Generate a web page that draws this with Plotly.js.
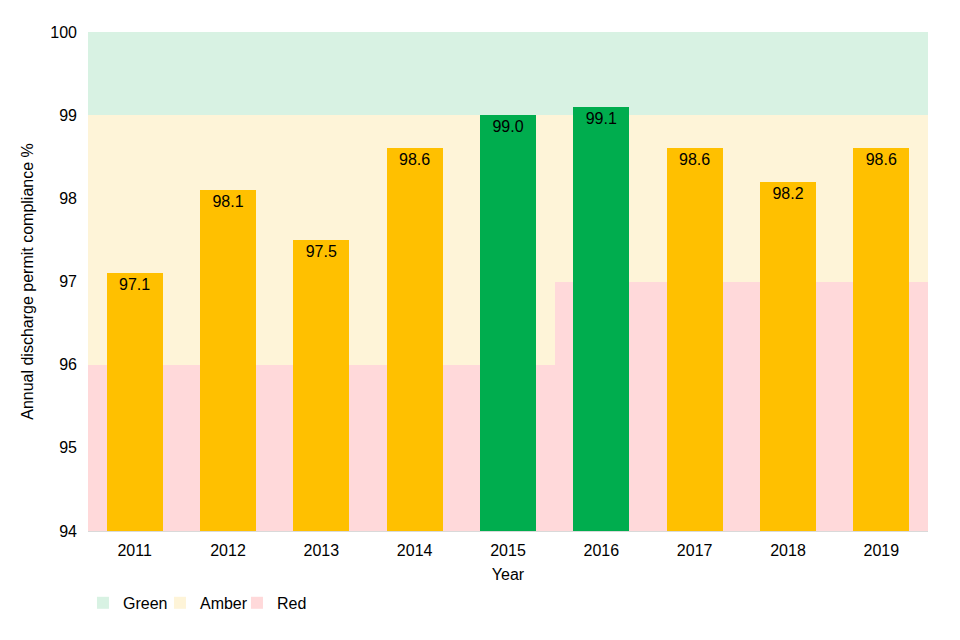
<!DOCTYPE html>
<html>
<head>
<meta charset="utf-8">
<script src="https://cdn.plot.ly/plotly-3.0.1.min.js"></script>
<style>html,body{margin:0;padding:0;background:#fff}#chart{width:960px;height:640px}</style>
</head>
<body>
<div id="chart"></div>
<script>
const years = ['2011','2012','2013','2014','2015','2016','2017','2018','2019'];
const compliance = [97.1, 98.1, 97.5, 98.6, 99.0, 99.1, 98.6, 98.2, 98.6];
const barRating = ['amber','amber','amber','amber','green','green','amber','amber','amber'];
const redThreshold = [96, 96, 96, 96, 96, 97, 97, 97, 97];
const greenThreshold = [99, 99, 99, 99, 99, 99, 99, 99, 99];
const axisMin = 94;
const axisMax = 100;

const colors = {
  greenBand: '#d8f2e3', amberBand: '#fef4d8', redBand: '#ffd9da',
  green: '#00ad4e', amber: '#ffc000'
};

const bandW = years.map(() => 1);
const traces = [
  {type:'bar', name:'Green', x: years, base: greenThreshold, y: greenThreshold.map(g => axisMax - g),
   width: bandW, marker:{color: colors.greenBand}, hoverinfo:'skip'},
  {type:'bar', name:'Amber', x: years, base: redThreshold, y: redThreshold.map((r,i) => greenThreshold[i] - r),
   width: bandW, marker:{color: colors.amberBand}, hoverinfo:'skip'},
  {type:'bar', name:'Red', x: years, base: years.map(() => axisMin), y: redThreshold.map(r => r - axisMin),
   width: bandW, marker:{color: colors.redBand}, hoverinfo:'skip'},
  {type:'bar', name:'Compliance', showlegend:false, x: years, base: years.map(() => axisMin),
   y: compliance.map(v => v - axisMin), width: years.map(() => 0.6),
   marker:{color: barRating.map(r => r === 'green' ? colors.green : colors.amber)},
   text: compliance.map(v => v.toFixed(1)), textposition:'inside', insidetextanchor:'end',
   textangle: 0, textfont:{color:'#000', size:16, family:'Liberation Sans, Arial, sans-serif'},
   hoverinfo:'skip'}
];

const layout = {
  width: 960, height: 640,
  margin: {l: 88, r: 32, t: 32, b: 109},
  paper_bgcolor: '#fff', plot_bgcolor: '#fff',
  barmode: 'overlay', bargap: 0,
  font: {family: 'Liberation Sans, Arial, sans-serif', size: 16, color: '#000'},
  showlegend: true,
  legend: {orientation: 'h', x: -0.006, xanchor: 'left', y: -0.11, yanchor: 'top',
           font: {size: 16}, traceorder: 'normal', itemwidth: 30, entrywidth: 32},
  xaxis: {type: 'category', title: {text: 'Year', font: {size: 16}, standoff: 10},
          showline: true, linecolor: '#d9d9d9', linewidth: 1, ticks: '', showgrid: false,
          ticklabelstandoff: 5},
  yaxis: {range: [axisMin, axisMax], dtick: 1, showgrid: false, zeroline: false,
          title: {text: 'Annual discharge permit compliance %', font: {size: 16}, standoff: 12},
          ticks: '', showline: false, ticklabelstandoff: 10},
  uniformtext: {mode: false}
};

Plotly.newPlot('chart', traces, layout, {displayModeBar: false, staticPlot: true});
</script>
</body>
</html>
